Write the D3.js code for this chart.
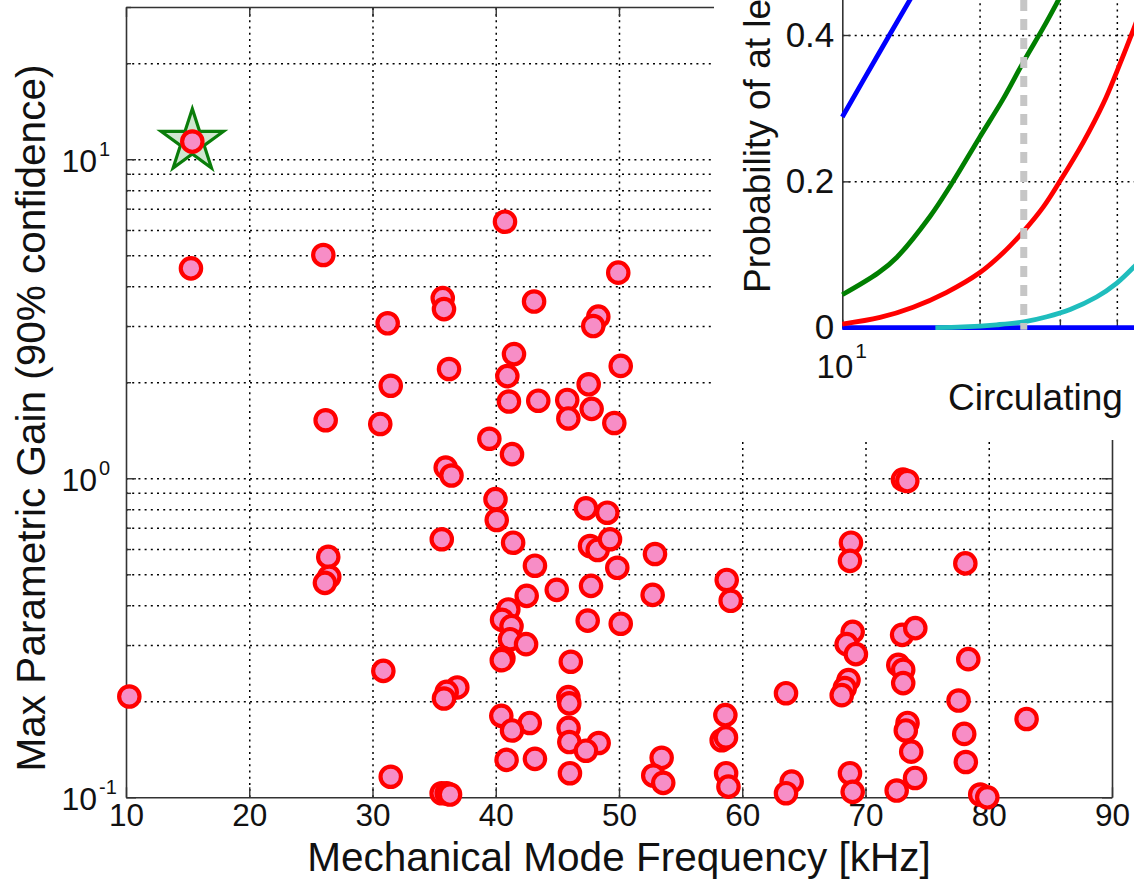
<!DOCTYPE html>
<html>
<head>
<meta charset="utf-8">
<script src="https://cdn.jsdelivr.net/npm/d3@7"></script>
<style>
  html, body { margin: 0; padding: 0; background: #fff; }
  svg { display: block; font-family: "Liberation Sans", Arial, sans-serif; }
</style>
</head>
<body>
<svg id="chart" width="1134" height="879"></svg>
<script>
// =========================
// Parametric gain of mechanical modes + inset probability curves
// =========================

// -------------------------
// DATA (main scatter)
// -------------------------
const modeFreq = [
  15.38, 15.27, 26.01, 40.75, 49.94, 35.70, 35.80, 43.11, 31.23, 48.32,
  47.91, 41.48, 36.21, 40.94, 50.14, 31.48, 47.54, 41.07, 43.45, 45.80,
  47.78, 45.89, 49.62, 26.20, 30.63, 39.48, 41.32, 35.94, 36.41, 73.04,
  73.39, 39.98, 40.08, 47.32, 49.05, 35.62, 41.41, 47.65, 48.27, 49.27,
  68.82, 52.92, 26.41, 68.74, 78.10, 26.49, 26.14, 43.18, 49.86, 58.74,
  47.73, 44.95, 42.51, 52.73, 59.06, 41.02, 40.51, 41.28, 47.46, 50.14,
  41.16, 42.46, 68.96, 68.47, 69.22, 72.97, 74.04, 40.62, 40.49, 46.09,
  30.88, 78.34, 72.66, 73.06, 73.06, 68.62, 68.32, 68.07, 63.55, 10.27,
  36.88, 36.02, 35.80, 45.89, 45.97, 77.55, 40.45, 58.63, 83.07, 42.76,
  73.41, 73.27, 41.32, 45.91, 78.01, 48.35, 45.97, 58.33, 58.68, 47.32,
  73.71, 40.88, 43.18, 53.46, 78.14, 52.78, 53.59, 31.48, 46.02, 68.74,
  74.02, 58.69, 58.88, 64.01, 63.55, 35.61, 36.02, 36.29, 68.96, 72.53,
  79.31, 79.88
];
const maxGain = [
  11.36, 4.55, 5.01, 6.37, 4.41, 3.67, 3.39, 3.58, 3.06, 3.21,
  3.00, 2.45, 2.20, 2.09, 2.25, 1.95, 1.97, 1.74, 1.75, 1.76,
  1.65, 1.54, 1.49, 1.52, 1.48, 1.33, 1.19, 1.08, 1.02, 0.99,
  0.98, 0.86, 0.74, 0.805, 0.78, 0.644, 0.628, 0.613, 0.596, 0.644,
  0.628, 0.579, 0.567, 0.551, 0.541, 0.491, 0.470, 0.532, 0.524, 0.480,
  0.460, 0.447, 0.428, 0.431, 0.413, 0.388, 0.360, 0.344, 0.358, 0.350,
  0.313, 0.302, 0.330, 0.302, 0.281, 0.323, 0.339, 0.273, 0.269, 0.266,
  0.249, 0.271, 0.260, 0.251, 0.228, 0.233, 0.220, 0.209, 0.212, 0.207,
  0.221, 0.214, 0.204, 0.206, 0.197, 0.201, 0.180, 0.181, 0.176, 0.171,
  0.171, 0.162, 0.162, 0.165, 0.158, 0.148, 0.149, 0.151, 0.154, 0.140,
  0.139, 0.131, 0.132, 0.133, 0.129, 0.117, 0.111, 0.116, 0.119, 0.119,
  0.115, 0.119, 0.108, 0.112, 0.103, 0.103, 0.103, 0.102, 0.104, 0.105,
  0.102, 0.100
];
// the highlighted mode (star)
const starFreq = [15.38];
const starGain = [11.36];

const xTickValues = [10, 20, 30, 40, 50, 60, 70, 80, 90];
const yTickValues = [0.1, 1, 10];
const yTickExponents = ["-1", "0", "1"];

// -------------------------
// DATA (inset)
// -------------------------
const insetProbTicks = [0, 0.2, 0.4];
const insetProbLabels = ["0", "0.2", "0.4"];
const insetPowerGrid = [20, 30, 40];
const thresholdPower = [25];

const bluePower = [10, 11.9, 14.07, 14.6];
const blueProb = [0.288, 0.370, 0.448, 0.465];
const greenPower = [10, 12, 13.16, 15.57, 17.38, 20, 22.5, 25, 27.6, 29.8, 31];
const greenProb = [0.045, 0.075, 0.096, 0.152, 0.197, 0.260, 0.312, 0.364, 0.410, 0.448, 0.468];
const redPower = [10, 12.1, 14.3, 16.9, 20, 22.5, 25, 27.6, 30, 33.8, 37.4, 40, 43.6, 44.5];
const redProb = [0.005, 0.014, 0.028, 0.048, 0.075, 0.102, 0.132, 0.165, 0.200, 0.254, 0.307, 0.350, 0.409, 0.424];
const cyanPower = [16, 18.4, 21.8, 25, 28.1, 31.6, 36.1, 40, 43.6, 44.5];
const cyanProb = [0, 0.001, 0.004, 0.008, 0.015, 0.025, 0.042, 0.061, 0.083, 0.089];
const flatPower = [10, 44.5];
const flatProb = [0, 0];

// -------------------------
// MAIN AXES
// -------------------------
const svg = d3.select("#chart");
const W = 1134, H = 879;
const plot = { left: 126, right: 1112, top: 7, bottom: 797.3 };

const x = d3.scaleLinear().domain([10, 90]).range([plot.left, plot.right]);
const y = d3.scaleLog().domain([0.1, 30]).range([plot.bottom, plot.top]);

// every 1..9 x decade value inside the domain
const yAllTicks = [];
[0.1, 1, 10].forEach(d => { for (let k = 1; k <= 9; k++) { const v = +(d * k).toPrecision(3); if (v <= 30) yAllTicks.push(v); } });
const yMinorTicks = yAllTicks.filter(v => !yTickValues.includes(v));

const gridStyle = g => g.selectAll("line")
  .attr("stroke", "#000").attr("stroke-width", 1.5).attr("stroke-dasharray", "2,4.2");

// grid
svg.append("g").attr("transform", `translate(0,${plot.bottom})`)
  .call(d3.axisBottom(x).tickValues(xTickValues.slice(1, -1)).tickSize(-(plot.bottom - plot.top)).tickFormat(""))
  .call(g => g.select(".domain").remove())
  .call(gridStyle);
svg.append("g").attr("transform", `translate(${plot.left},0)`)
  .call(d3.axisLeft(y).tickValues(yAllTicks.filter(v => v > 0.1 && v < 30)).tickSize(-(plot.right - plot.left)).tickFormat(""))
  .call(g => g.select(".domain").remove())
  .call(gridStyle);

// frame + ticks
const axisColor = "#333";
const styleAxis = g => {
  g.select(".domain").attr("stroke", axisColor).attr("stroke-width", 1.6);
  g.selectAll(".tick line").attr("stroke", axisColor).attr("stroke-width", 1.4);
};
const bottomAxis = svg.append("g").attr("transform", `translate(0,${plot.bottom})`)
  .call(d3.axisBottom(x).tickValues(xTickValues).tickSizeInner(-10).tickSizeOuter(0).tickPadding(6))
  .call(styleAxis);
bottomAxis.selectAll("text").attr("font-size", 31.5).attr("fill", "#111").attr("font-family", "Liberation Sans, Arial, sans-serif");

svg.append("g").attr("transform", `translate(0,${plot.top})`)
  .call(d3.axisTop(x).tickValues(xTickValues).tickSizeInner(-10).tickSizeOuter(0).tickFormat(""))
  .call(styleAxis);
[[d3.axisLeft, plot.left], [d3.axisRight, plot.right]].forEach(([ax, pos]) => {
  svg.append("g").attr("transform", `translate(${pos},0)`)
    .call(ax(y).tickValues(yTickValues).tickSizeInner(-10).tickSizeOuter(0).tickFormat(""))
    .call(styleAxis);
  svg.append("g").attr("transform", `translate(${pos},0)`)
    .call(ax(y).tickValues(yMinorTicks).tickSizeInner(-5).tickSizeOuter(0).tickFormat(""))
    .call(g => g.select(".domain").remove())
    .call(styleAxis);
});

// log tick labels: 10^n
yTickValues.forEach((v, i) => {
  svg.append("text").attr("x", 97).attr("y", y(v) + 13)
    .attr("text-anchor", "end").attr("font-size", 32).attr("fill", "#111").text("10");
  svg.append("text").attr("x", 99).attr("y", y(v) - 3)
    .attr("font-size", 20).attr("fill", "#111").text(yTickExponents[i]);
});

// axis titles
svg.append("text").attr("x", (plot.left + plot.right) / 2).attr("y", 871)
  .attr("text-anchor", "middle").attr("font-size", 40.5).attr("fill", "#111")
  .text("Mechanical Mode Frequency [kHz]");
svg.append("text").attr("transform", "translate(45,418) rotate(-90)")
  .attr("text-anchor", "middle").attr("font-size", 40.5).attr("fill", "#111")
  .text("Max Parametric Gain (90% confidence)");

// -------------------------
// MARKERS
// -------------------------
const star = d3.symbol().type(d3.symbolStar).size(1200);
svg.append("g").selectAll("path").data(starFreq).enter().append("path")
  .attr("d", star)
  .attr("transform", (d, i) => `translate(${x(d)},${y(starGain[i])})`)
  .attr("fill", "#cfe6cf").attr("stroke", "#0a7d0a").attr("stroke-width", 3.2);

svg.append("g").selectAll("circle").data(modeFreq).enter().append("circle")
  .attr("cx", d => x(d))
  .attr("cy", (d, i) => y(maxGain[i]))
  .attr("r", 10.2)
  .attr("fill", "#f78dc6").attr("stroke", "#ff0000").attr("stroke-width", 4.2);

// -------------------------
// INSET
// -------------------------
const inset = { left: 714, top: 0, right: W, bottom: 440 };
svg.append("clipPath").attr("id", "insetClip").append("rect")
  .attr("x", inset.left).attr("y", inset.top)
  .attr("width", inset.right - inset.left).attr("height", inset.bottom - inset.top);

const ig = svg.append("g").attr("clip-path", "url(#insetClip)");
ig.append("rect").attr("x", inset.left).attr("y", inset.top)
  .attr("width", inset.right - inset.left).attr("height", inset.bottom - inset.top).attr("fill", "#fff");

const ia = { left: 842.3, bottom: 327.7 };
const ix = d3.scaleLog().domain([10, 100]).range([ia.left, ia.left + 456]);
const iy = d3.scaleLinear().domain([0, 1]).range([ia.bottom, ia.bottom - 731.75]);

// inset grid
ig.append("g").attr("transform", `translate(0,${ia.bottom})`)
  .call(d3.axisBottom(ix).tickValues(insetPowerGrid).tickSize(-ia.bottom).tickFormat(""))
  .call(g => g.select(".domain").remove())
  .call(gridStyle);
ig.append("g").attr("transform", `translate(${ia.left},0)`)
  .call(d3.axisLeft(iy).tickValues(insetProbTicks.slice(1)).tickSize(-(W - ia.left)).tickFormat(""))
  .call(g => g.select(".domain").remove())
  .call(gridStyle);

// inset axes
const iLeft = ig.append("g").attr("transform", `translate(${ia.left},0)`)
  .call(d3.axisLeft(iy).tickValues(insetProbTicks).tickSizeInner(-8).tickSizeOuter(0).tickPadding(8)
    .tickFormat((d, i) => insetProbLabels[i]))
  .call(styleAxis);
iLeft.selectAll("text").attr("font-size", 35).attr("fill", "#111").attr("font-family", "Liberation Sans, Arial, sans-serif");
ig.append("g").attr("transform", `translate(0,${ia.bottom})`)
  .call(d3.axisBottom(ix).tickValues([10].concat(insetPowerGrid)).tickSizeInner(-8).tickSizeOuter(0).tickFormat(""))
  .call(styleAxis);

ig.append("text").attr("x", ia.left + 11).attr("y", 378)
  .attr("text-anchor", "end").attr("font-size", 33).attr("fill", "#111").text("10");
ig.append("text").attr("x", ia.left + 13).attr("y", 358)
  .attr("font-size", 21).attr("fill", "#111").text("1");

ig.append("text").attr("x", 948).attr("y", 410)
  .attr("font-size", 37).attr("fill", "#111").text("Circulating");
ig.append("text").attr("transform", "translate(770,293) rotate(-90)")
  .attr("font-size", 37).attr("fill", "#111").text("Probability of at le");

// inset curves
const iline = d3.line().x(d => ix(d[0])).y(d => iy(d[1])).curve(d3.curveCatmullRom.alpha(0.5));
const series = [
  { p: flatPower, q: flatProb, color: "#0000ff" },
  { p: cyanPower, q: cyanProb, color: "#1fbdbd" },
  { p: redPower, q: redProb, color: "#ff0000" },
  { p: greenPower, q: greenProb, color: "#007f00" },
  { p: bluePower, q: blueProb, color: "#0000ff" }
];
series.forEach(s => {
  ig.append("path").datum(s.p.map((v, i) => [v, s.q[i]]))
    .attr("d", iline).attr("fill", "none")
    .attr("stroke", s.color).attr("stroke-width", 4.8);
});

// threshold power marker
ig.selectAll("line.threshold").data(thresholdPower).enter().append("line")
  .attr("class", "threshold")
  .attr("x1", d => ix(d)).attr("x2", d => ix(d))
  .attr("y1", 0).attr("y2", ia.bottom + 2)
  .attr("stroke", "#c6c6c6").attr("stroke-width", 7).attr("stroke-dasharray", "11,8");
</script>
</body>
</html>
